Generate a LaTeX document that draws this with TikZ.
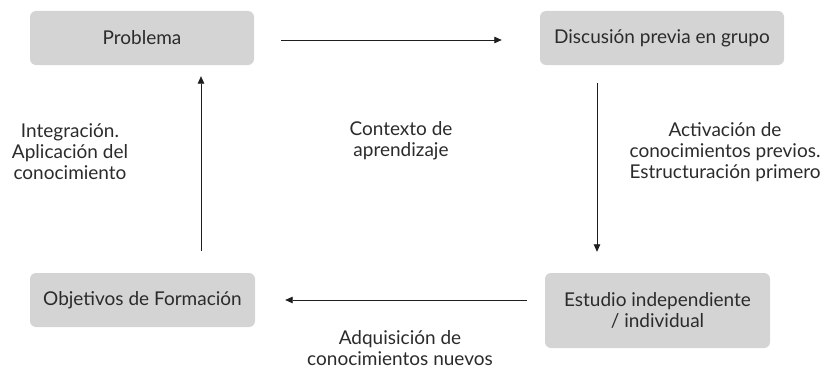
\documentclass[tikz,border=0pt]{standalone}
\usepackage{fontspec}
\setmainfont{Lato}
\usetikzlibrary{arrows.meta, positioning}
\definecolor{boxfill}{HTML}{D4D4D4}
\definecolor{ink}{HTML}{2B2B2B}
\definecolor{wire}{HTML}{1E1E1E}
\tikzset{
  stage/.style={rectangle, rounded corners=6pt, fill=boxfill, text=ink,
                align=center, inner sep=0pt, font=\fontsize{19}{21}\selectfont},
  note/.style={align=center, text=ink, inner sep=0pt, font=\fontsize{19}{21}\selectfont},
  flow/.style={-{Triangle[length=7.5pt, width=6.5pt]}, draw=wire, line width=0.8pt}
}
\begin{document}
\begin{tikzpicture}[x=1pt, y=-1pt]

  % ---- Frame ---------------------------------------------------------------
  \useasboundingbox (0,0) rectangle (829,369);

  % ---- Stages --------------------------------------------------------------
  \node[stage, minimum width=224pt, minimum height=54pt] (prob) at (142,38)
        {Problema};
  \node[stage, minimum width=244pt, minimum height=54pt] (disc) at (662,38)
        {Discusión previa en grupo};
  \node[stage, minimum width=225pt, minimum height=54pt] (obj) at (142.5,300)
        {Objetivos de Formación};
  \node[stage, minimum width=225pt, minimum height=75pt] (est) at (657.5,310.5)
        {Estudio independiente\\/ individual};

  % ---- Cycle ---------------------------------------------------------------
  \coordinate (dtop) at ([xshift=-65pt]disc.south);
  \coordinate (otop) at ([xshift=58.5pt]obj.north);
  \draw[flow, shorten <=27pt, shorten >=38pt] (prob.east |- 0,40) -- (disc.west |- 0,40);
  \draw[flow, shorten <=18pt, shorten >=21pt] (dtop) -- (dtop |- est.north);
  \draw[flow, shorten <=18pt, shorten >=30pt] (est.west |- obj.east) -- (obj.east);
  \draw[flow, shorten <=22pt, shorten >=11pt] (otop) -- (otop |- prob.south);

  % ---- Notes ---------------------------------------------------------------
  \node[note] (integ) at (70,152)  {Integración.\\Aplicación del\\conocimiento};
  \node[note] (ctx)   at (401,141) {Contexto de\\aprendizaje};
  \node[note] (activ) at (725,152) {Activación de\\conocimientos previos.\\Estructuración primero};
  \node[note] (adq)   at (400,348) {Adquisición de\\conocimientos nuevos};

\end{tikzpicture}
\end{document}
